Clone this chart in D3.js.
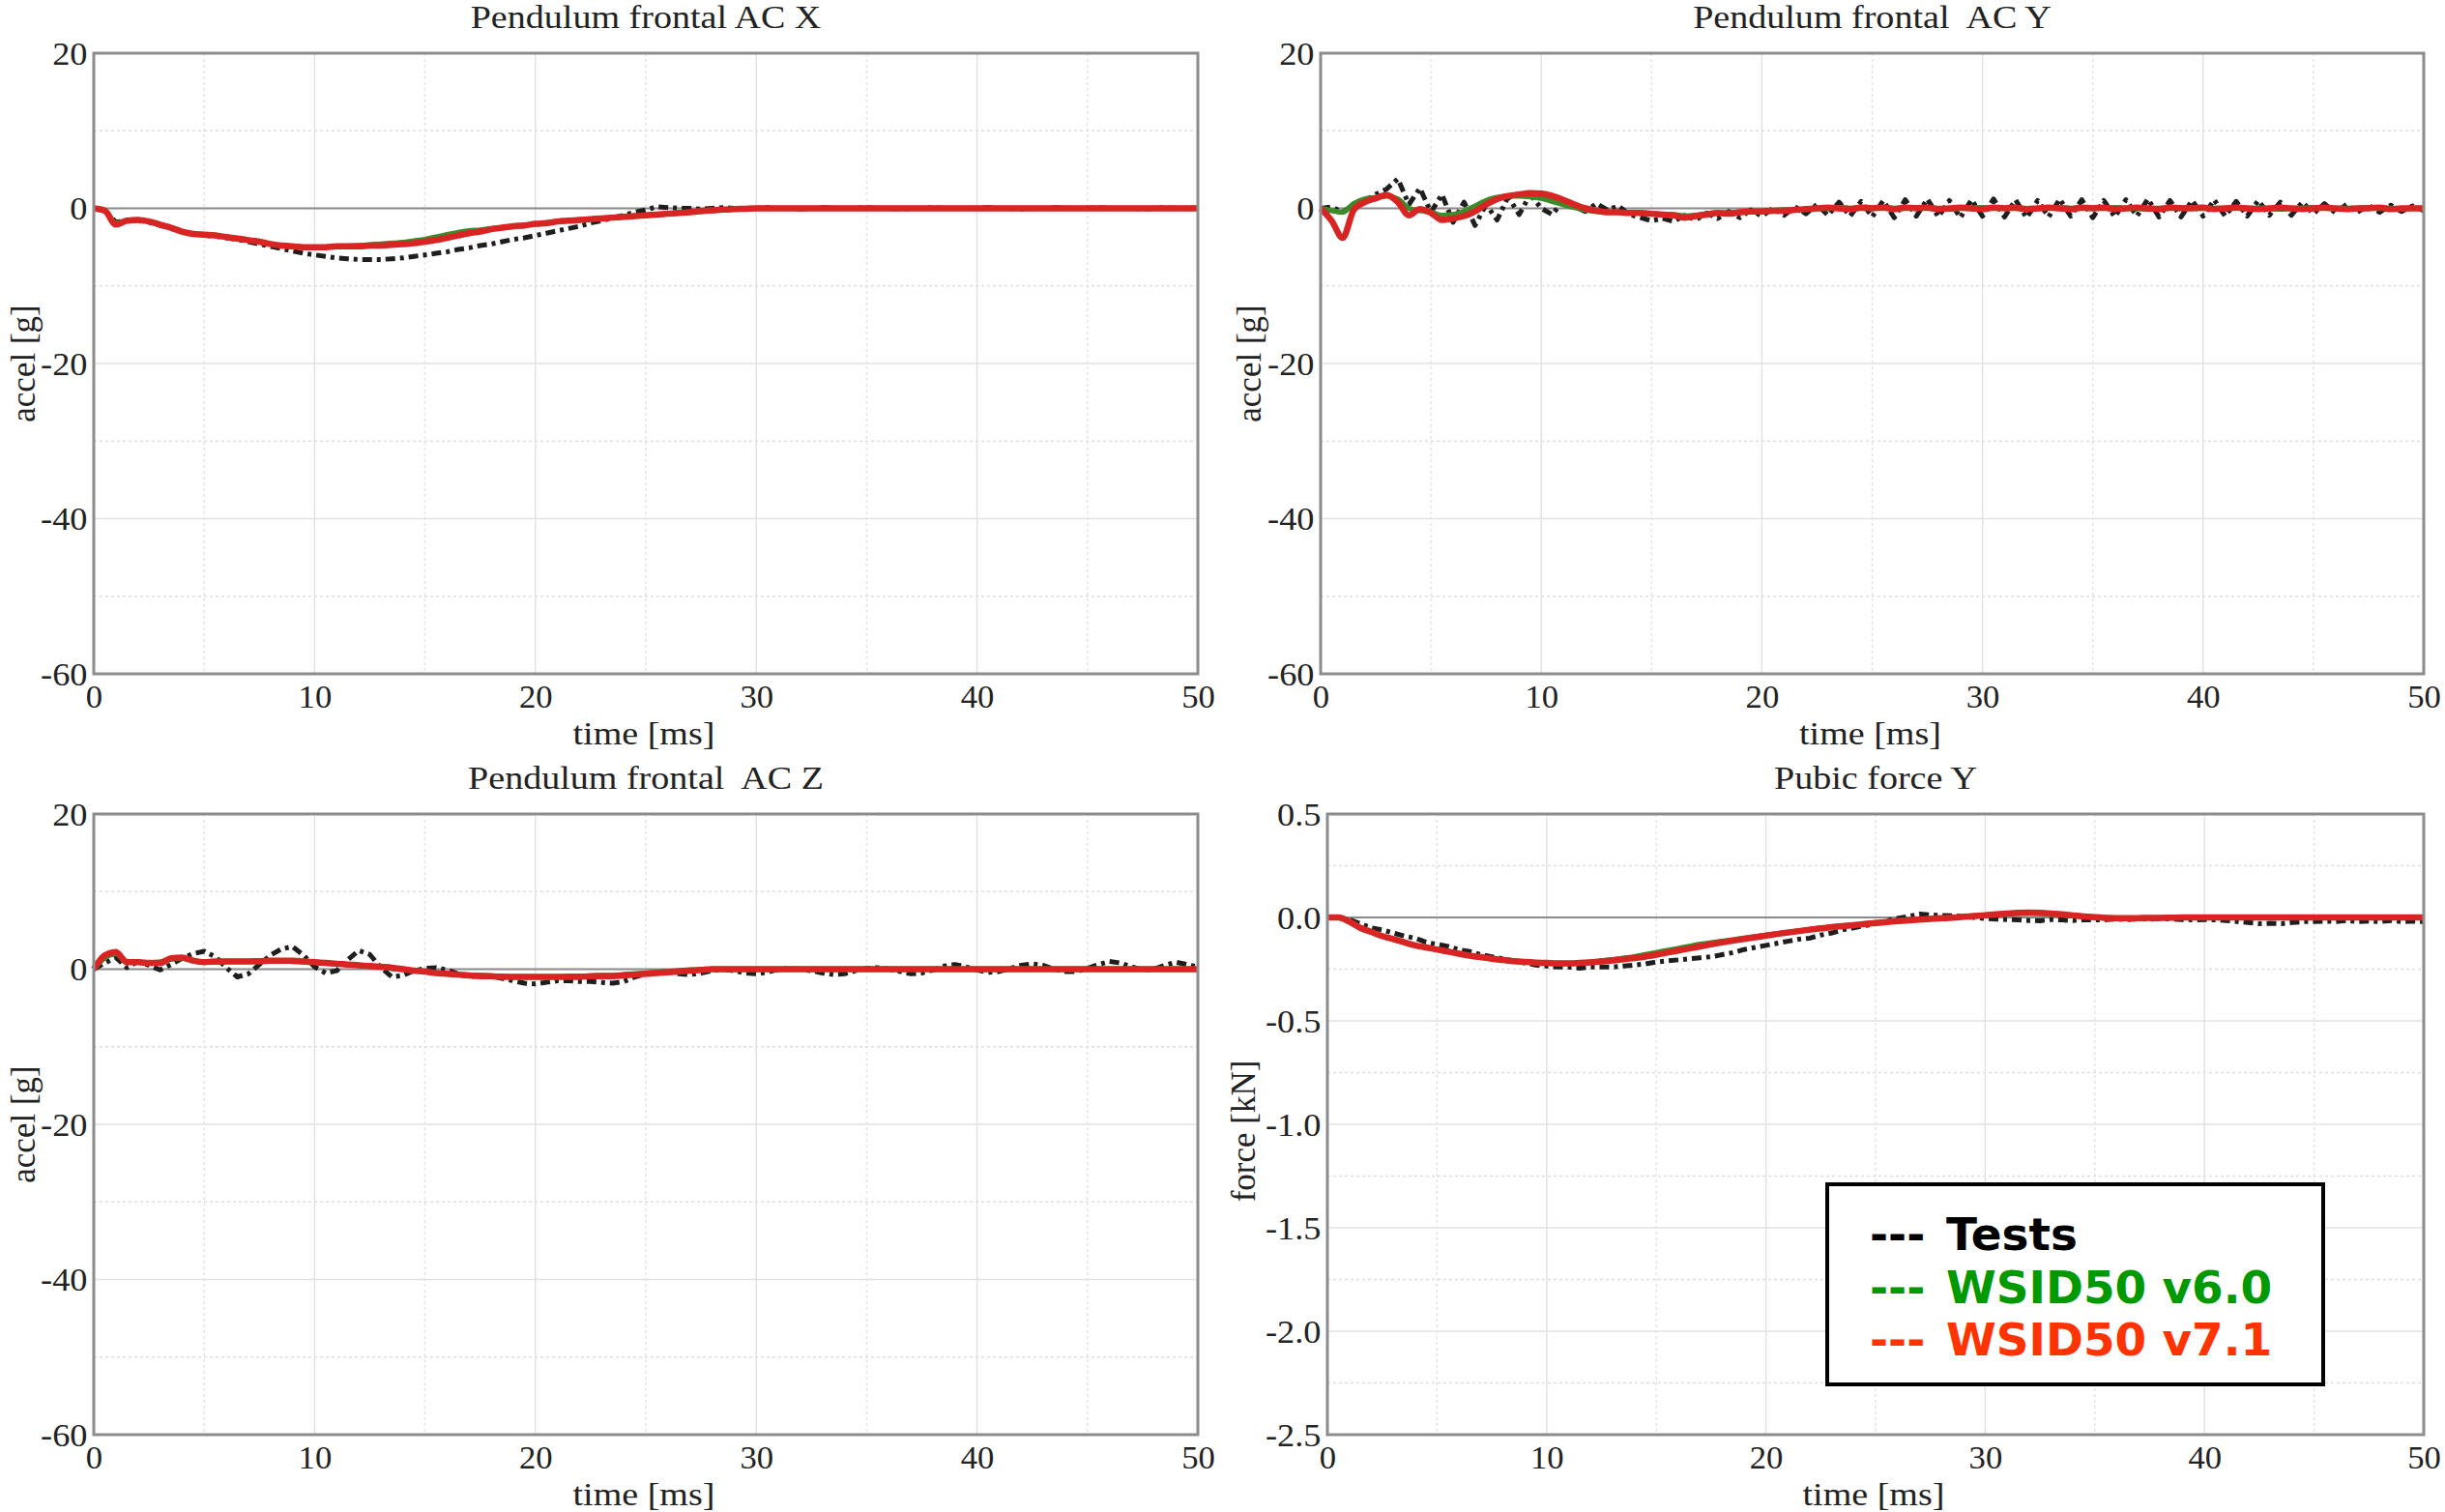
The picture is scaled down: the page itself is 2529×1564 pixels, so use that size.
<!DOCTYPE html>
<html><head><meta charset="utf-8">
<script src="https://cdn.jsdelivr.net/npm/d3@7"></script>
<style>
html,body{margin:0;padding:0;background:#fff;}
svg{display:block;}
text{white-space:pre;}
</style></head><body>
<svg id="chart" width="2529" height="1564"></svg>
<script>
// ---------- DATA ----------
const time = [
 0,0.5,1,1.5,2,2.5,3,3.5,4,4.5,
 5,5.5,6,6.5,7,7.5,8,8.5,9,9.5,
 10,10.5,11,11.5,12,12.5,13,13.5,14,14.5,
 15,15.5,16,16.5,17,17.5,18,18.5,19,19.5,
 20,20.5,21,21.5,22,22.5,23,23.5,24,24.5,
 25,25.5,26,26.5,27,27.5,28,28.5,29,29.5,
 30,30.5,31,31.5,32,32.5,33,33.5,34,34.5,
 35,35.5,36,36.5,37,37.5,38,38.5,39,39.5,
 40,40.5,41,41.5,42,42.5,43,43.5,44,44.5,
 45,45.5,46,46.5,47,47.5,48,48.5,49,49.5,
 50];

const seriesNames = ["Tests", "WSID50 v6.0", "WSID50 v7.1"];
const panelTitles = ["Pendulum frontal AC X", "Pendulum frontal  AC Y", "Pendulum frontal  AC Z", "Pubic force Y"];
const yLabels = ["accel [g]", "accel [g]", "accel [g]", "force [kN]"];
const xLabel = "time [ms]";
const xTicks = [0, 10, 20, 30, 40, 50];
const xMinor = [5, 15, 25, 35, 45];
const yTicksAccel = [20, 0, -20, -40, -60];
const yMinorAccel = [10, -10, -30, -50];
const yTicksForce = [0.5, 0.0, -0.5, -1.0, -1.5, -2.0, -2.5];
const yMinorForce = [0.25, -0.25, -0.75, -1.25, -1.75, -2.25];

// Pendulum frontal AC X [g]
const p1Tests = [
 0,-0.2,-1.8,-1.5,-1.5,-1.8,-2.2,-2.6,-3.0,-3.3,
 -3.5,-3.6,-3.8,-4.0,-4.3,-4.6,-4.9,-5.2,-5.5,-5.8,
 -6.0,-6.2,-6.4,-6.5,-6.6,-6.6,-6.6,-6.5,-6.4,-6.2,
 -6.0,-5.8,-5.6,-5.3,-5.1,-4.8,-4.6,-4.3,-4.0,-3.8,
 -3.5,-3.2,-2.9,-2.6,-2.3,-1.9,-1.6,-1.2,-0.9,-0.5,
 -0.2,0.2,0.1,0.0,0.0,-0.1,0.0,0.1,0.0,-0.1,
 0.0,0.1,0.0,0.0,-0.1,0.0,0.1,0.0,0.0,0.0,
 0.1,0.0,0.0,-0.1,0.0,0.0,0.1,0.0,0.0,0.0,
 0.0,0.1,0.0,0.0,-0.1,0.0,0.0,0.1,0.0,0.0,
 0.0,0.1,0.0,0.0,0.0,-0.1,0.0,0.1,0.0,0.0,
 0.0];
const p1V60 = [
 0,-0.3,-1.9,-1.6,-1.5,-1.7,-2.1,-2.5,-3.0,-3.3,
 -3.4,-3.5,-3.7,-3.9,-4.1,-4.3,-4.6,-4.8,-4.9,-5.0,
 -5.0,-5.0,-4.9,-4.9,-4.8,-4.7,-4.6,-4.5,-4.4,-4.2,
 -4.0,-3.7,-3.4,-3.1,-2.9,-2.8,-2.6,-2.5,-2.3,-2.2,
 -2.0,-1.9,-1.7,-1.6,-1.5,-1.4,-1.3,-1.2,-1.1,-1.0,
 -0.9,-0.8,-0.7,-0.6,-0.5,-0.4,-0.3,-0.2,-0.1,-0.05,
 0,0,0,0,0,0,0,0,0,0,
 0,0,0,0,0,0,0,0,0,0,
 0,0,0,0,0,0,0,0,0,0,
 0,0,0,0,0,0,0,0,0,0,
 0];
const p1V71 = [
 0,-0.3,-2.1,-1.6,-1.5,-1.7,-2.1,-2.5,-3.0,-3.3,
 -3.4,-3.5,-3.7,-3.9,-4.1,-4.3,-4.6,-4.8,-4.9,-5.0,
 -5.0,-5.0,-4.9,-4.9,-4.9,-4.8,-4.8,-4.7,-4.6,-4.5,
 -4.3,-4.1,-3.8,-3.5,-3.2,-3.0,-2.7,-2.5,-2.3,-2.2,
 -2.0,-1.9,-1.7,-1.6,-1.5,-1.4,-1.3,-1.2,-1.1,-1.0,
 -0.9,-0.8,-0.7,-0.6,-0.5,-0.35,-0.25,-0.15,-0.1,-0.05,
 0,0,0,0,0,0,0,0,0,0,
 0,0,0,0,0,0,0,0,0,0,
 0,0,0,0,0,0,0,0,0,0,
 0,0,0,0,0,0,0,0,0,0,
 0];

// Pendulum frontal AC Y [g]
const p2Tests = [
 0,0.2,-0.5,0.5,1.0,1.8,2.5,3.8,0.5,2.6,
 -0.5,1.8,-1.8,0.8,-2.2,0.5,-1.5,1.5,-0.8,1.8,
 0.0,-0.8,1.0,0.2,-0.4,0.6,-0.2,0.3,-0.8,-1.2,
 -1.6,-1.3,-1.7,-0.9,-1.5,-0.6,-1.3,-0.4,-1.2,-0.2,
 -1.0,0.0,-0.9,0.2,-0.7,0.5,-0.9,0.8,-1.0,0.9,
 -1.1,1.0,-1.2,1.1,-1.0,1.2,-1.1,1.0,-1.2,1.1,
 -1.0,1.2,-1.1,1.1,-1.2,1.0,-1.1,1.2,-1.0,1.1,
 -1.2,1.0,-1.1,1.1,-1.0,1.2,-1.1,1.0,-1.1,1.0,
 -1.0,1.1,-1.0,0.9,-1.0,1.0,-0.9,0.8,-0.9,0.8,
 -0.7,0.6,-0.6,0.5,-0.5,0.4,-0.5,0.4,-0.4,0.3,
 -0.3];
const p2V60 = [
 0,-0.3,-0.5,0.6,1.2,1.4,1.6,1.2,0.0,-0.3,
 -0.5,-0.9,-0.8,-0.4,0.3,1.0,1.4,1.6,1.6,1.5,
 1.3,0.9,0.5,0.1,-0.2,-0.4,-0.5,-0.5,-0.6,-0.6,
 -0.7,-0.8,-0.8,-1.0,-0.9,-0.7,-0.6,-0.6,-0.5,-0.4,
 -0.4,-0.3,-0.2,-0.2,-0.1,0.0,0.0,0.1,0.0,0.0,
 0.0,0.1,0.0,0.0,0.1,0.0,0.0,-0.1,0.0,0.0,
 0.1,0.0,0.0,0.0,-0.1,0.0,0.0,0.1,0.0,0.0,
 0.0,0.0,0.1,0.0,0.0,-0.1,0.0,0.0,0.1,0.0,
 0.0,0.0,0.0,0.1,0.0,0.0,0.0,-0.1,0.0,0.0,
 0.1,0.0,0.0,0.0,0.0,0.1,0.0,0.0,-0.1,0.0,
 0.0];
const p2V71 = [
 0,-1.6,-3.8,-0.2,0.8,1.3,1.7,0.8,-0.9,-0.1,
 -0.6,-1.5,-1.3,-1.0,-0.4,0.5,1.2,1.6,1.8,1.95,
 1.9,1.6,1.1,0.5,0.0,-0.3,-0.5,-0.5,-0.6,-0.6,
 -0.7,-0.8,-0.9,-1.2,-1.0,-0.8,-0.6,-0.7,-0.5,-0.4,
 -0.4,-0.3,-0.3,-0.2,-0.1,0.0,0.1,0.0,-0.1,0.1,
 0.0,0.1,-0.1,0.1,0.0,0.1,-0.1,0.0,0.1,0.0,
 -0.1,0.1,0.0,0.1,-0.1,0.0,0.1,0.0,-0.1,0.1,
 0.0,0.1,-0.1,0.0,0.1,0.0,-0.1,0.1,0.0,0.0,
 0.1,-0.1,0.0,0.1,0.0,-0.1,0.0,0.1,0.0,-0.1,
 0.0,0.1,0.0,-0.1,0.0,0.0,0.1,-0.1,0.0,0.0,
 0.0];

// Pendulum frontal AC Z [g]
const p3Tests = [
 0,0.8,1.5,0.2,1.0,0.5,-0.1,0.6,1.4,2.0,
 2.3,1.6,0.2,-1.0,-0.6,0.6,1.8,2.6,2.9,1.8,
 0.3,-0.5,-0.2,1.2,2.4,1.9,0.2,-1.0,-0.8,-0.2,
 0.1,0.2,-0.1,-0.6,-1.0,-0.8,-0.9,-1.2,-1.5,-1.8,
 -1.9,-1.7,-1.5,-1.5,-1.6,-1.6,-1.7,-1.8,-1.6,-1.0,
 -0.6,-0.4,-0.3,-0.6,-0.7,-0.5,-0.2,0.0,-0.2,-0.5,
 -0.6,-0.4,0.0,0.1,0.0,-0.2,-0.5,-0.7,-0.6,-0.2,
 0.1,0.2,0.0,-0.3,-0.6,-0.5,-0.1,0.4,0.6,0.3,
 -0.1,-0.4,-0.3,0.1,0.5,0.7,0.5,0.0,-0.3,-0.3,
 0.1,0.6,1.0,0.8,0.3,-0.1,0.0,0.5,0.9,0.6,
 0.3];
const p3V60 = [
 0,1.5,2.0,1.0,0.9,0.8,0.9,1.3,1.4,1.1,
 0.9,0.9,1.0,1.0,1.0,1.1,1.1,1.1,1.0,1.0,
 0.9,0.8,0.7,0.6,0.5,0.4,0.3,0.1,0.0,-0.2,
 -0.3,-0.5,-0.6,-0.7,-0.8,-0.8,-0.9,-0.9,-1.0,-1.0,
 -1.0,-1.0,-1.0,-0.9,-0.9,-0.9,-0.8,-0.8,-0.7,-0.6,
 -0.5,-0.4,-0.3,-0.2,-0.1,-0.1,0.0,0.0,0.0,0.0,
 0,0,0,0,0,0,0,0,0,0,
 0,0,0,0,0,0,0,0,0,0,
 0,0,0,0,0,0,0,0,0,0,
 0,0,0,0,0,0,0,0,0,0,
 0];
const p3V71 = [
 0,1.8,2.2,0.9,0.9,0.8,0.8,1.4,1.5,1.1,
 0.9,1.0,1.0,1.0,1.0,1.0,1.1,1.1,1.1,1.0,
 0.9,0.8,0.7,0.6,0.5,0.4,0.3,0.2,0.0,-0.2,
 -0.3,-0.5,-0.6,-0.7,-0.8,-0.9,-0.9,-1.0,-1.0,-1.0,
 -1.0,-1.0,-1.0,-1.0,-1.0,-0.9,-0.9,-0.9,-0.8,-0.7,
 -0.6,-0.5,-0.4,-0.3,-0.2,-0.1,0.0,0.0,0.0,0.0,
 0,0,0,0,0,0,0,0,0,0,
 0,0,0,0,0,0,0,0,0,0,
 0,0,0,0,0,0,0,0,0,0,
 0,0,0,0,0,0,0,0,0,0,
 0];

// Pubic force Y [kN]
const p4Tests = [
 0,0,-0.01,-0.03,-0.05,-0.06,-0.075,-0.09,-0.1,-0.12,
 -0.13,-0.14,-0.156,-0.165,-0.18,-0.19,-0.2,-0.21,-0.22,-0.23,
 -0.235,-0.24,-0.24,-0.245,-0.24,-0.24,-0.24,-0.235,-0.23,-0.225,
 -0.215,-0.21,-0.205,-0.2,-0.195,-0.19,-0.18,-0.17,-0.155,-0.145,
 -0.135,-0.125,-0.115,-0.105,-0.1,-0.085,-0.075,-0.06,-0.05,-0.04,
 -0.03,-0.016,-0.005,0.005,0.016,0.012,0.01,0.008,0.005,0.0,
 -0.005,-0.008,-0.01,-0.012,-0.015,-0.016,-0.01,-0.012,-0.015,-0.01,
 -0.012,-0.01,-0.008,-0.01,-0.006,-0.008,-0.005,-0.008,-0.01,-0.012,
 -0.01,-0.012,-0.015,-0.02,-0.025,-0.03,-0.028,-0.03,-0.025,-0.02,
 -0.02,-0.018,-0.02,-0.015,-0.02,-0.018,-0.02,-0.015,-0.02,-0.018,
 -0.02];
const p4V60 = [
 0,0,-0.02,-0.05,-0.07,-0.09,-0.105,-0.12,-0.135,-0.145,
 -0.155,-0.165,-0.175,-0.185,-0.192,-0.2,-0.206,-0.211,-0.215,-0.218,
 -0.22,-0.222,-0.222,-0.22,-0.216,-0.21,-0.204,-0.197,-0.19,-0.18,
 -0.17,-0.16,-0.15,-0.14,-0.13,-0.122,-0.115,-0.108,-0.1,-0.093,
 -0.086,-0.079,-0.072,-0.065,-0.058,-0.052,-0.046,-0.041,-0.036,-0.031,
 -0.026,-0.021,-0.017,-0.013,-0.009,-0.006,-0.003,0.0,0.003,0.007,
 0.011,0.015,0.018,0.02,0.021,0.02,0.017,0.013,0.009,0.005,
 0.001,-0.002,-0.003,-0.004,-0.003,-0.002,-0.002,-0.001,0.0,0.0,
 0,0,0,0,0,0,0,0,0,0,
 0,0,0,0,0,0,0,0,0,0,
 0];
const p4V71 = [
 0,0,-0.02,-0.05,-0.07,-0.09,-0.105,-0.12,-0.135,-0.145,
 -0.155,-0.165,-0.175,-0.185,-0.192,-0.2,-0.206,-0.211,-0.215,-0.218,
 -0.22,-0.222,-0.222,-0.22,-0.217,-0.213,-0.208,-0.202,-0.196,-0.189,
 -0.18,-0.17,-0.16,-0.15,-0.14,-0.13,-0.12,-0.112,-0.104,-0.096,
 -0.088,-0.08,-0.073,-0.066,-0.059,-0.053,-0.047,-0.042,-0.037,-0.032,
 -0.027,-0.022,-0.018,-0.014,-0.01,-0.007,-0.004,-0.001,0.003,0.007,
 0.011,0.015,0.019,0.022,0.023,0.022,0.019,0.015,0.01,0.005,
 0.001,-0.002,-0.004,-0.004,-0.003,-0.002,-0.002,-0.001,0.0,0.0,
 0,0,0,0,0,0,0,0,0,0,
 0,0,0,0,0,0,0,0,0,0,
 0];

// ---------- LAYOUT / STYLE ----------
const serif = "'Liberation Serif','Times New Roman',serif";
const colors = {tests: "#1e1e1e", v60: "#3d8a2a", v71: "#d92424"};
const legendColors = ["#000000", "#009900", "#ff3300"];

const panels = [
  {title: panelTitles[0], ylabel: yLabels[0], data: [p1Tests, p1V60, p1V71], yDomain: [-60, 20], yTicks: yTicksAccel, yMinor: yMinorAccel, fmt: d => String(d),
   left: 97, right: 1239, top: 55, bottom: 697, ylabX: 24, ylabY: 376},
  {title: panelTitles[1], ylabel: yLabels[1], data: [p2Tests, p2V60, p2V71], yDomain: [-60, 20], yTicks: yTicksAccel, yMinor: yMinorAccel, fmt: d => String(d),
   left: 1366, right: 2507, top: 55, bottom: 697, ylabX: 1292, ylabY: 376},
  {title: panelTitles[2], ylabel: yLabels[2], data: [p3Tests, p3V60, p3V71], yDomain: [-60, 20], yTicks: yTicksAccel, yMinor: yMinorAccel, fmt: d => String(d),
   left: 97, right: 1239, top: 842, bottom: 1484, ylabX: 24, ylabY: 1163},
  {title: panelTitles[3], ylabel: yLabels[3], data: [p4Tests, p4V60, p4V71], yDomain: [-2.5, 0.5], yTicks: yTicksForce, yMinor: yMinorForce, fmt: d => d.toFixed(1),
   left: 1373, right: 2507, top: 842, bottom: 1484, ylabX: 1286, ylabY: 1170}
];

const svg = d3.select("#chart");
svg.append("rect").attr("width", 2529).attr("height", 1564).attr("fill", "#fff");

panels.forEach((p, pi) => {
  const x = d3.scaleLinear().domain([0, 50]).range([p.left, p.right]);
  const y = d3.scaleLinear().domain(p.yDomain).range([p.bottom, p.top]);
  const g = svg.append("g");

  // minor grid
  g.append("g").selectAll("line").data(xMinor).join("line")
    .attr("x1", d => x(d)).attr("x2", d => x(d)).attr("y1", p.top).attr("y2", p.bottom)
    .attr("stroke", "#e4e4e4").attr("stroke-width", 1.5).attr("stroke-dasharray", "3,3");
  g.append("g").selectAll("line").data(p.yMinor).join("line")
    .attr("y1", d => y(d)).attr("y2", d => y(d)).attr("x1", p.left).attr("x2", p.right)
    .attr("stroke", "#dedede").attr("stroke-width", 1.5).attr("stroke-dasharray", "3,3");
  // major grid
  g.append("g").selectAll("line").data(xTicks).join("line")
    .attr("x1", d => x(d)).attr("x2", d => x(d)).attr("y1", p.top).attr("y2", p.bottom)
    .attr("stroke", "#e2e2e2").attr("stroke-width", 1.5);
  g.append("g").selectAll("line").data(p.yTicks).join("line")
    .attr("y1", d => y(d)).attr("y2", d => y(d)).attr("x1", p.left).attr("x2", p.right)
    .attr("stroke", "#e2e2e2").attr("stroke-width", 1.5);

  // zero line
  g.append("line").attr("x1", p.left).attr("x2", p.right).attr("y1", y(0)).attr("y2", y(0))
    .attr("stroke", "#8a8a8a").attr("stroke-width", 2.2);

  // axes
  const gx = g.append("g").attr("transform", `translate(0,${p.bottom})`)
    .call(d3.axisBottom(x).tickValues(xTicks).tickSize(0).tickPadding(0).tickFormat(d => String(d)));
  gx.select(".domain").remove();
  gx.selectAll("text").attr("y", 35).attr("dy", null)
    .attr("font-family", serif).attr("font-size", 33).attr("fill", "#222")
    .attr("transform", "scale(1.05,1)");

  const gy = g.append("g").attr("transform", `translate(${p.left},0)`)
    .call(d3.axisLeft(y).tickValues(p.yTicks).tickSize(0).tickPadding(0).tickFormat(p.fmt));
  gy.select(".domain").remove();
  gy.selectAll("text").attr("x", -6).attr("dy", "0.34em")
    .attr("font-family", serif).attr("font-size", 33).attr("fill", "#222")
    .attr("transform", "scale(1.1,1)");

  // series
  const pts = arr => time.map((t, i) => ({t: t, v: arr[i]}));
  const lineSmooth = d3.line().x(d => x(d.t)).y(d => y(d.v)).curve(d3.curveMonotoneX);
  const lineRaw = d3.line().x(d => x(d.t)).y(d => y(d.v));
  g.append("path").attr("d", lineRaw(pts(p.data[0]))).attr("fill", "none")
    .attr("stroke", colors.tests).attr("stroke-width", 5).attr("stroke-dasharray", "10,5,4,5")
    .attr("stroke-linejoin", "round");
  g.append("path").attr("d", lineSmooth(pts(p.data[1]))).attr("fill", "none")
    .attr("stroke", colors.v60).attr("stroke-width", 5.5).attr("stroke-linejoin", "round");
  g.append("path").attr("d", lineSmooth(pts(p.data[2]))).attr("fill", "none")
    .attr("stroke", colors.v71).attr("stroke-width", 6.5).attr("stroke-linejoin", "round");

  // frame
  g.append("rect").attr("x", p.left).attr("y", p.top)
    .attr("width", p.right - p.left).attr("height", p.bottom - p.top)
    .attr("fill", "none").attr("stroke", "#8c8c8c").attr("stroke-width", 3);

  // title
  const cx = (p.left + p.right) / 2;
  g.append("text").attr("transform", `translate(${cx},${p.top - 26}) scale(1.12,1)`)
    .attr("text-anchor", "middle").attr("font-family", serif).attr("font-size", 34)
    .attr("fill", "#222").text(p.title);
  // x label
  g.append("text").attr("transform", `translate(${cx - 2},${p.bottom + 73}) scale(1.12,1)`)
    .attr("text-anchor", "middle").attr("font-family", serif).attr("font-size", 34)
    .attr("fill", "#222").text(xLabel);
  // y label
  g.append("text").attr("transform", `translate(${p.ylabX},${p.ylabY}) rotate(-90)`)
    .attr("text-anchor", "middle").attr("dy", "0.35em").attr("font-family", serif)
    .attr("font-size", 35).attr("fill", "#222").text(p.ylabel);
});

// legend
const lg = svg.append("g");
lg.append("rect").attr("x", 1890).attr("y", 1225).attr("width", 513).attr("height", 207)
  .attr("fill", "#fff").attr("stroke", "#000").attr("stroke-width", 4);
const legendBaselines = [1293, 1348, 1402];
const legendFont = "'DejaVu Sans',Verdana,sans-serif";
seriesNames.forEach((n, i) => {
  lg.append("text").attr("x", 1934).attr("y", legendBaselines[i])
    .attr("font-family", legendFont).attr("font-weight", "bold")
    .attr("font-size", 46).attr("fill", legendColors[i]).text("---");
  lg.append("text").attr("transform", `translate(2013,${legendBaselines[i]}) scale(1.02,1)`)
    .attr("font-family", legendFont).attr("font-weight", "bold")
    .attr("font-size", 46).attr("fill", legendColors[i]).text(n);
});
</script>
</body></html>
